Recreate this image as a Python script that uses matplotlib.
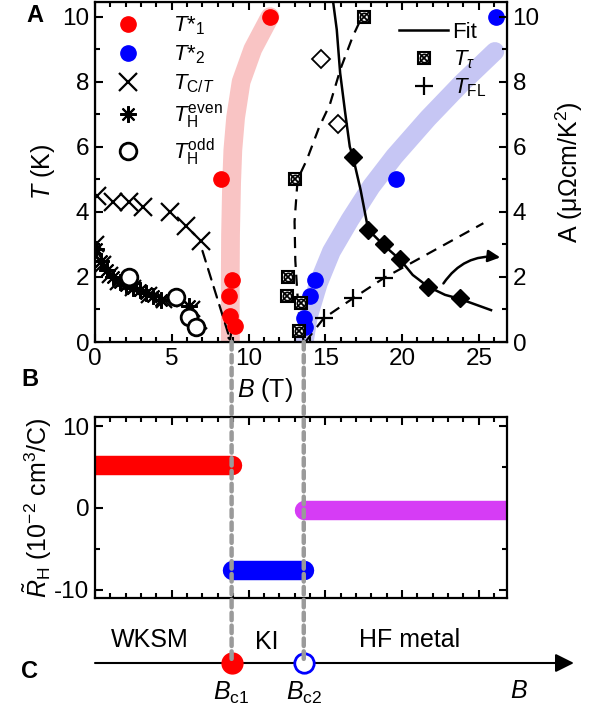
import matplotlib.pyplot as plt
from matplotlib.lines import Line2D
from matplotlib.legend_handler import HandlerTuple
from matplotlib.patches import ConnectionPatch
from matplotlib.ticker import MultipleLocator

plt.rcParams['font.family'] = ['Liberation Sans', 'DejaVu Sans']
plt.rcParams['mathtext.fontset'] = 'custom'
plt.rcParams['mathtext.rm'] = 'Liberation Sans'
plt.rcParams['mathtext.it'] = 'Liberation Sans:italic'
plt.rcParams['mathtext.bf'] = 'Liberation Sans:bold'
plt.rcParams['axes.unicode_minus'] = False

# ---------------- panel A data ----------------
t1_B = [11.4, 8.2, 8.9, 8.75, 8.8, 9.1]
t1_T = [10.0, 5.0, 1.9, 1.4, 0.8, 0.5]
t2_B = [26.1, 19.6, 14.35, 14.0, 13.6, 13.65]
t2_T = [10.0, 5.0, 1.9, 1.4, 0.75, 0.45]

# guide bands (read along the centre of the shaded stripes)
band1_B = [8.83, 8.82, 8.81, 8.83, 8.9, 8.98, 9.16, 9.52, 10.28, 11.4]
band1_T = [-0.5, 0.3, 1.8, 3.3, 4.9, 5.9, 6.9, 8.0, 9.0, 10.0]
band2_B = [13.6, 13.65, 13.9, 14.55, 15.4, 16.6, 18.0, 19.5, 21.7, 23.9, 26.05]
band2_T = [-0.5, 0.06, 0.78, 1.8, 2.78, 3.75, 4.78, 5.7, 6.88, 7.96, 8.93]

tct_B = [0.1, 1.2, 2.2, 3.1, 4.9, 5.9, 6.9]
tct_T = [4.5, 4.3, 4.3, 4.15, 4.0, 3.55, 3.1]
tct_low_B = [0.05, 0.5, 1.0, 1.5, 2.5, 3.5, 4.5, 6.3]
tct_low_T = [3.0, 2.4, 2.05, 1.85, 1.65, 1.45, 1.3, 1.0]

even_B = [0.05, 0.4, 0.8, 1.2, 1.6, 2.0, 2.5, 2.9, 3.3, 3.8, 4.3, 6.1]
even_T = [2.85, 2.5, 2.2, 2.0, 1.85, 1.75, 1.65, 1.6, 1.5, 1.4, 1.3, 1.1]
odd_B = [2.2, 5.3, 6.1, 6.6]
odd_T = [2.0, 1.37, 0.78, 0.45]

low_dash_B = [0.0, 1.0, 2.0, 3.0, 4.0, 5.0, 6.0, 7.3]
low_dash_T = [2.9, 2.1, 1.8, 1.6, 1.4, 1.2, 0.9, 0.4]
ctdash_B = [7.0, 8.85]
ctdash_T = [2.8, 0.0]

ttau_B = [17.5, 13.0, 12.6, 12.5, 13.4, 13.3]
ttau_T = [10.0, 5.0, 2.0, 1.4, 1.2, 0.35]
ttau_dash_B = [13.6, 13.25, 13.05, 13.0, 13.2, 13.8, 14.6, 15.3, 16.0, 16.8, 17.4]
ttau_dash_T = [0.0, 1.0, 2.5, 3.7, 5.0, 5.6, 6.6, 7.3, 8.4, 9.4, 10.0]

tfl_B = [14.9, 16.8, 18.8]
tfl_T = [0.73, 1.34, 1.96]
tfl_dash_B = [13.7, 14.9, 16.8, 18.8, 25.3]
tfl_dash_T = [0.0, 0.73, 1.34, 1.96, 3.65]

# A coefficient (right axis)
a_B = [16.8, 17.8, 18.8, 19.9, 21.7, 23.8]
a_val = [5.7, 3.45, 3.0, 2.55, 1.7, 1.34]
a_open_B = [14.7, 15.8]
a_open_val = [8.7, 6.7]
fit_B = [15.5, 15.75, 15.97, 16.3, 16.6, 16.8, 17.3, 17.8, 18.8, 19.9, 20.7, 21.7, 22.8, 23.8, 25.8]
fit_A = [10.5, 9.6, 8.27, 7.04, 6.0, 5.7, 4.68, 3.45, 2.98, 2.52, 2.06, 1.7, 1.45, 1.32, 0.98]

# ---------------- panel B data ----------------
rh_red_B = [-1.0, 8.9]
rh_red = [5.3, 5.3]
rh_blue_B = [8.9, 13.6]
rh_blue = [-7.6, -7.6]
rh_purple_B = [13.6, 30.0]
rh_purple = [-0.3, -0.3]

Bc1, Bc2 = 8.9, 13.6

fig = plt.figure(figsize=(5.89, 7.13), dpi=100)
W, H = 589, 713
px = 15.35  # pixels per tesla

axA = fig.add_axes([95 / W, (H - 342) / H, 412 / W, 340 / H])
axB = fig.add_axes([95 / W, (H - 598) / H, 412 / W, 181 / H])
axC = fig.add_axes([95 / W, 0, 494 / W, 100 / H])

xmax = 412 / px

# bands
axA.plot(band1_B, band1_T, color='#f9c4c4', lw=13.5, solid_capstyle='round',
         solid_joinstyle='round', zorder=1)
axA.plot(band2_B, band2_T, color='#c6c6f4', lw=13.5, solid_capstyle='round',
         solid_joinstyle='round', zorder=1)

# dashed guides
dash = (5, 3.5)
axA.plot(low_dash_B, low_dash_T, 'k--', lw=1.6, dashes=dash, zorder=2)
axA.annotate('', xy=(ctdash_B[1], ctdash_T[1]), xytext=(ctdash_B[0], ctdash_T[0]),
             arrowprops=dict(arrowstyle='->', lw=1.6, ls=(0, dash), color='k',
                             shrinkA=0, shrinkB=0, mutation_scale=14), zorder=2)
axA.plot(ttau_dash_B, ttau_dash_T, 'k--', lw=1.6, dashes=dash, zorder=2)
axA.plot(tfl_dash_B, tfl_dash_T, 'k--', lw=1.6, dashes=dash, zorder=2)

# fit line
axA.plot(fit_B, fit_A, 'k-', lw=1.8, zorder=3)
axA.annotate('', xy=(26.4, 2.6), xytext=(22.7, 1.8),
             arrowprops=dict(arrowstyle='-|>', lw=1.8, color='k', shrinkA=0, shrinkB=0,
                             mutation_scale=18, connectionstyle='arc3,rad=-0.3'))

# markers
axA.plot(tct_B, tct_T, 'kx', ms=13, mew=1.6, ls='', zorder=4)
axA.plot(tct_low_B, tct_low_T, 'kx', ms=11, mew=1.6, ls='', zorder=4)
axA.plot(even_B, even_T, color='k', marker=(8, 2, 0), ms=12, mew=1.5, ls='', zorder=4)
axA.plot(odd_B, odd_T, 'ko', ms=12, mew=2, mfc='white', ls='', zorder=5)
axA.plot(t1_B, t1_T, 'o', color='red', ms=11, ls='', zorder=6)
axA.plot(t2_B, t2_T, 'o', color='blue', ms=11, ls='', zorder=6)
axA.plot(a_B, a_val, 'kD', ms=9, ls='', zorder=6)
axA.plot(a_open_B, a_open_val, 'kD', ms=9, mfc='white', mew=1.3, ls='', zorder=6)
axA.plot(ttau_B, ttau_T, 'ks', ms=9, mfc='white', mew=1.5, ls='', zorder=6)
axA.plot(ttau_B, ttau_T, 'kx', ms=7, mew=1.3, ls='', zorder=6)
axA.plot(ttau_B, ttau_T, 'ko', ms=6, mfc='none', mew=1.2, ls='', zorder=6)
axA.plot(tfl_B, tfl_T, 'k+', ms=13, mew=1.6, ls='', zorder=6)

axA.set_xlim(0, xmax)
axA.set_ylim(0, 10.45)
axA.xaxis.set_major_locator(MultipleLocator(5))
axA.xaxis.set_minor_locator(MultipleLocator(1))
axA.yaxis.set_major_locator(MultipleLocator(2))
axA.yaxis.set_minor_locator(MultipleLocator(1))
axA.tick_params(which='both', direction='in', top=True, right=False, width=1.5, labelsize=17.5)
axA.tick_params(which='major', length=6, pad=4)
axA.tick_params(which='minor', length=3.5)
axA.set_ylabel('$T$ (K)', fontsize=18, labelpad=4)
axA.set_xlabel('$B$ (T)', fontsize=18)
axA.xaxis.set_label_coords(170 / 412, -0.10)
for s in axA.spines.values():
    s.set_linewidth(1.6)

axA2 = axA.twinx()
axA2.set_ylim(0, 10.45)
axA2.yaxis.set_major_locator(MultipleLocator(2))
axA2.yaxis.set_minor_locator(MultipleLocator(1))
axA2.tick_params(which='both', direction='in', width=1.5, labelsize=17.5)
axA2.tick_params(which='major', length=6, pad=4)
axA2.tick_params(which='minor', length=3.5)
axA2.set_ylabel('A (μΩcm/K$^2$)', fontsize=18, labelpad=10)

# legends
h_t1 = Line2D([], [], marker='o', color='red', ls='', ms=11)
h_t2 = Line2D([], [], marker='o', color='blue', ls='', ms=11)
h_ct = Line2D([], [], marker='x', color='k', ls='', ms=13, mew=1.6)
h_ev = Line2D([], [], marker=(8, 2, 0), color='k', ls='', ms=12, mew=1.5)
h_od = Line2D([], [], marker='o', color='k', mfc='white', ls='', ms=12, mew=2)
leg1 = axA.legend([h_t1, h_t2, h_ct, h_ev, h_od],
                  [r'$T$*$_1$', r'$T$*$_2$', r'$T_{\mathrm{C}/T}$',
                   r'$T_\mathrm{H}^\mathrm{even}$', r'$T_\mathrm{H}^\mathrm{odd}$'],
                  loc='upper left', frameon=False, fontsize=16, handletextpad=1.0,
                  labelspacing=0.3, borderaxespad=0.0, handlelength=2.0,
                  bbox_to_anchor=(0.005, 0.99))
axA.add_artist(leg1)

h_fit = Line2D([], [], color='k', lw=1.8)
h_tau = (Line2D([], [], marker='s', color='k', mfc='white', ls='', ms=9, mew=1.5),
         Line2D([], [], marker='x', color='k', ls='', ms=7, mew=1.3),
         Line2D([], [], marker='o', color='k', mfc='none', ls='', ms=6, mew=1.2))
h_fl = Line2D([], [], marker='+', color='k', ls='', ms=13, mew=1.6)
axA.legend([h_fit, h_tau, h_fl], ['Fit', r'$T_\tau$', r'$T_\mathrm{FL}$'],
           handler_map={tuple: HandlerTuple(ndivide=1, pad=0)},
           loc='upper right', frameon=False, fontsize=16, handletextpad=0.2,
           labelspacing=0.25, handlelength=2.2, borderaxespad=0.0,
           bbox_to_anchor=(0.97, 0.967))

# ---------------- panel B ----------------
axB.plot(rh_red_B, rh_red, color='red', lw=14, solid_capstyle='round')
axB.plot(rh_blue_B, rh_blue, color='blue', lw=14, solid_capstyle='round')
axB.plot(rh_purple_B, rh_purple, color='#d63cf5', lw=14, solid_capstyle='round')
axB.set_xlim(0, xmax)
axB.set_ylim(-11, 11.1)
axB.xaxis.set_major_locator(MultipleLocator(5))
axB.xaxis.set_minor_locator(MultipleLocator(1))
axB.yaxis.set_major_locator(MultipleLocator(10))
axB.yaxis.set_minor_locator(MultipleLocator(5))
axB.tick_params(which='both', direction='in', top=True, right=True, width=1.5,
                labelsize=17.5, labelbottom=False)
axB.tick_params(which='major', length=6, pad=4)
axB.tick_params(which='minor', length=3.5)
axB.set_ylabel(r'$\tilde{R}_\mathrm{H}$ (10$^{-2}$ cm$^3$/C)', fontsize=18, labelpad=0)
for s in axB.spines.values():
    s.set_linewidth(1.6)

# ---------------- panel C ----------------
axC.set_xlim(0, 494 / px)
axC.set_ylim(0, 1)
axC.axis('off')
axC.annotate('', xy=(31.2, 0.5), xytext=(0, 0.5),
             arrowprops=dict(arrowstyle='-|>', lw=1.5, color='k', shrinkA=0, shrinkB=0,
                             mutation_scale=28))
axC.plot([Bc1], [0.5], 'o', color='red', ms=15, zorder=5)
axC.plot([Bc2], [0.5], 'o', color='blue', mfc='white', ms=14, mew=2, zorder=5)
axC.text(3.6, 0.73, 'WKSM', fontsize=18, ha='center', va='center')
axC.text(11.2, 0.71, 'KI', fontsize=18, ha='center', va='center')
axC.text(20.5, 0.73, 'HF metal', fontsize=18, ha='center', va='center')
axC.text(Bc1, 0.2, r'$B_\mathrm{c1}$', fontsize=18, ha='center', va='center')
axC.text(Bc2, 0.2, r'$B_\mathrm{c2}$', fontsize=18, ha='center', va='center')
axC.text(27.6, 0.22, '$B$', fontsize=18, ha='center', va='center')

# grey guide lines across panels
for bc in (Bc1, Bc2):
    con = ConnectionPatch(xyA=(bc, 0), coordsA=axA.transData,
                          xyB=(bc, 0.5), coordsB=axC.transData,
                          color='#9a9a9a', lw=3.2, ls=(0, (1.7, 1.2)), zorder=3)
    fig.add_artist(con)

# panel letters
fig.text(35 / W, 1 - 15 / H, 'A', fontsize=17, fontweight='bold', ha='center', va='center')
fig.text(30 / W, 1 - 380 / H, 'B', fontsize=17, fontweight='bold', ha='center', va='center')
fig.text(30 / W, 1 - 672 / H, 'C', fontsize=17, fontweight='bold', ha='center', va='center')

fig.savefig('out.png', dpi=100)
